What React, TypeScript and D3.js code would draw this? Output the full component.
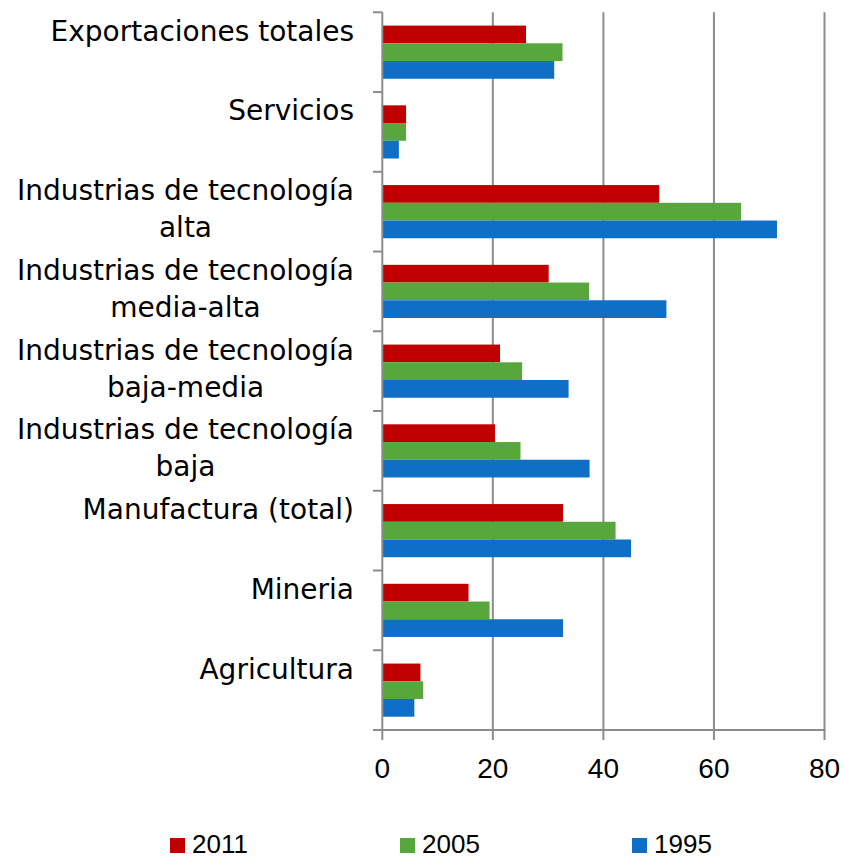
import React, { useEffect, useRef } from "react";
import * as d3 from "d3";

const categories = [
  "Exportaciones totales",
  "Servicios",
  "Industrias de tecnología\nalta",
  "Industrias de tecnología\nmedia-alta",
  "Industrias de tecnología\nbaja-media",
  "Industrias de tecnología\nbaja",
  "Manufactura (total)",
  "Mineria",
  "Agricultura",
];
const seriesNames = ["2011", "2005", "1995"];
const values2011 = [26.0, 4.3, 50.1, 30.1, 21.3, 20.4, 32.7, 15.6, 6.9];
const values2005 = [32.6, 4.3, 64.9, 37.4, 25.3, 25.0, 42.2, 19.4, 7.4];
const values1995 = [31.1, 3.0, 71.4, 51.4, 33.7, 37.5, 45.0, 32.7, 5.8];
const xTicks = [0, 20, 40, 60, 80];
const colors = ["#C00000", "#58A73D", "#0F6FC6"];

const W = 844;
const H = 859;

export default function App() {
  const ref = useRef<SVGSVGElement | null>(null);

  useEffect(() => {
    const svg = d3.select(ref.current);
    svg.selectAll("*").remove();
    const seriesVals = [values2011, values2005, values1995];

    const x = d3.scaleLinear().domain([0, 80]).range([382.3, 824.5]);
    const y0 = d3
      .scaleBand<string>()
      .domain(categories)
      .range([12.3, 730])
      .paddingInner(1 / 3)
      .paddingOuter(1 / 6);
    const y1 = d3.scaleBand<string>().domain(seriesNames).range([0, y0.bandwidth()]);
    const step = y0.step();
    const top0 = 12.3;

    // gridlines
    svg
      .append("g")
      .selectAll("line")
      .data(xTicks.filter((t) => t > 0))
      .join("line")
      .attr("x1", (d) => x(d))
      .attr("x2", (d) => x(d))
      .attr("y1", top0)
      .attr("y2", 730)
      .attr("stroke", "#8c8c8c")
      .attr("stroke-width", 2);

    // bars
    const g = svg.append("g");
    seriesNames.forEach((s, si) => {
      g.append("g")
        .selectAll("rect")
        .data(categories.map((c, i) => ({ c, v: seriesVals[si][i] })))
        .join("rect")
        .attr("x", x(0))
        .attr("y", (d) => (y0(d.c) as number) + (y1(s) as number))
        .attr("width", (d) => x(d.v) - x(0))
        .attr("height", y1.bandwidth())
        .attr("fill", colors[si]);
    });

    // left axis
    const ax = svg.append("g").attr("stroke", "#8c8c8c").attr("stroke-width", 2);
    ax.append("line").attr("x1", x(0)).attr("x2", x(0)).attr("y1", top0).attr("y2", 731);
    d3.range(categories.length + 1).forEach((i) => {
      const yy = top0 + i * step;
      ax.append("line").attr("x1", 373).attr("x2", x(0)).attr("y1", yy).attr("y2", yy);
    });
    // bottom axis
    ax.append("line").attr("x1", 373).attr("x2", x(80) + 1).attr("y1", 730).attr("y2", 730);
    xTicks.forEach((t) => {
      ax.append("line").attr("x1", x(t)).attr("x2", x(t)).attr("y1", 730).attr("y2", 740);
    });

    // tick labels
    svg
      .append("g")
      .selectAll("text")
      .data(xTicks)
      .join("text")
      .attr("x", (d) => x(d))
      .attr("y", 778)
      .attr("text-anchor", "middle")
      .attr("font-family", "Liberation Sans, Arial, sans-serif")
      .attr("font-size", 28)
      .attr("fill", "#000")
      .text((d) => String(d));

    // category labels
    const lg = svg.append("g").attr("font-family", "DejaVu Sans, sans-serif").attr("font-size", 28).attr("fill", "#000");
    categories.forEach((c, i) => {
      const lines = c.split("\n");
      const bandTop = top0 + i * step;
      const t1 = lg
        .append("text")
        .attr("x", 354)
        .attr("y", bandTop + 28.4)
        .attr("text-anchor", "end")
        .text(lines[0]);
      if (lines.length > 1) {
        const w = (t1.node() as SVGTextElement).getComputedTextLength();
        lg.append("text")
          .attr("x", 354 - w / 2)
          .attr("y", bandTop + 28.4 + 37)
          .attr("text-anchor", "middle")
          .text(lines[1]);
      }
    });

    // legend
    const legX = [170, 400, 632];
    const leg = svg.append("g");
    seriesNames.forEach((s, i) => {
      leg.append("rect").attr("x", legX[i]).attr("y", 838).attr("width", 15).attr("height", 15).attr("fill", colors[i]);
      leg
        .append("text")
        .attr("x", legX[i] + 22)
        .attr("y", 853)
        .attr("font-family", "Liberation Sans, Arial, sans-serif")
        .attr("font-size", 26)
        .attr("fill", "#000")
        .text(s);
    });
  }, []);

  return (
    <svg
      ref={ref}
      width={W}
      height={H}
      style={{ position: "absolute", left: 0, top: 0, background: "#fff" }}
    />
  );
}
